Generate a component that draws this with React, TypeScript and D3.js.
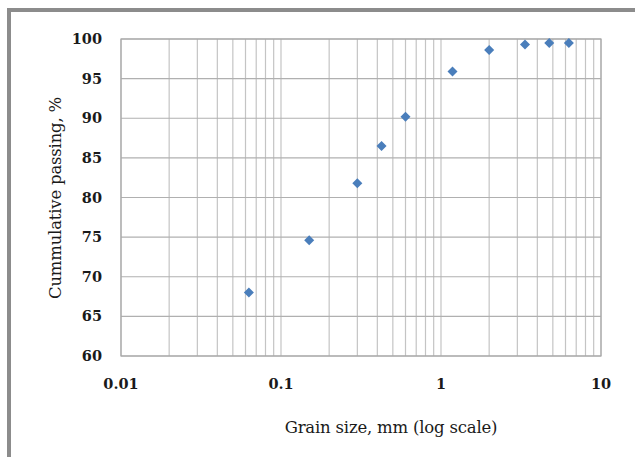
import React from "react";
import * as d3 from "d3";

const grainSize = [0.063, 0.15, 0.3, 0.425, 0.6, 1.18, 2.0, 3.35, 4.75, 6.3];
const passing = [68.0, 74.6, 81.8, 86.5, 90.2, 95.9, 98.6, 99.3, 99.5, 99.5];
const yTicks = [60, 65, 70, 75, 80, 85, 90, 95, 100];
const xMajorTicks = [0.01, 0.1, 1, 10];
const xLabels = ["0.01", "0.1", "1", "10"];

export default function App() {
  const W = 635, H = 457;
  const left = 121, right = 601, top = 39, bottom = 356;
  const x = d3.scaleLog().domain([0.01, 10]).range([left, right]);
  const y = d3.scaleLinear().domain([60, 100]).range([bottom, top]);
  const minor: number[] = [];
  for (let d = 0.01; d < 10; d *= 10) {
    for (let k = 2; k <= 9; k++) minor.push(+(d * k).toPrecision(3));
  }
  const font = "DejaVu Serif";
  const diamond = d3.symbol().type(d3.symbolDiamond2).size(64)() as string;
  return (
    <svg width={W} height={H} style={{ position: "absolute", left: 0, top: 0, background: "#fff" }}>
      <rect x={0} y={0} width={W} height={H} fill="#fff" />
      <rect x={9} y={10} width={W + 20} height={H + 20} fill="none" stroke="#8c8c8c" strokeWidth={4} />
      {minor.concat(xMajorTicks).map((v, i) => (
        <line key={"vx" + i} x1={x(v)} x2={x(v)} y1={top} y2={bottom} stroke="#c4c4c4" strokeWidth={1.2} />
      ))}
      {yTicks.map((v, i) => (
        <line key={"hy" + i} x1={left} x2={right} y1={y(v)} y2={y(v)} stroke="#b0b0b0" strokeWidth={1.2} />
      ))}
      <rect x={left} y={top} width={right - left} height={bottom - top} fill="none" stroke="#a8a8a8" strokeWidth={1.2} />
      {yTicks.map((v, i) => (
        <text key={"yl" + i} x={102} y={y(v)} dy="0.35em" textAnchor="end" fontFamily={font} fontWeight="bold" fontSize={14.5} fill="#1a1a1a">
          {v}
        </text>
      ))}
      {xMajorTicks.map((v, i) => (
        <text key={"xl" + i} x={x(v)} y={384} dy="0.35em" textAnchor="middle" fontFamily={font} fontWeight="bold" fontSize={14.5} fill="#1a1a1a">
          {xLabels[i]}
        </text>
      ))}
      <text x={391} y={433} textAnchor="middle" fontFamily={font} fontSize={16.5} fill="#1a1a1a" letterSpacing={-0.2}>
        Grain size, mm (log scale)
      </text>
      <text transform="translate(61,198) rotate(-90)" textAnchor="middle" fontFamily={font} fontSize={16.5} fill="#1a1a1a" letterSpacing={-0.2}>
        Cummulative passing, %
      </text>
      {grainSize.map((g, i) => (
        <path key={"p" + i} d={diamond} transform={`translate(${x(g)},${y(passing[i])})`} fill="#4a7ebb" />
      ))}
    </svg>
  );
}
